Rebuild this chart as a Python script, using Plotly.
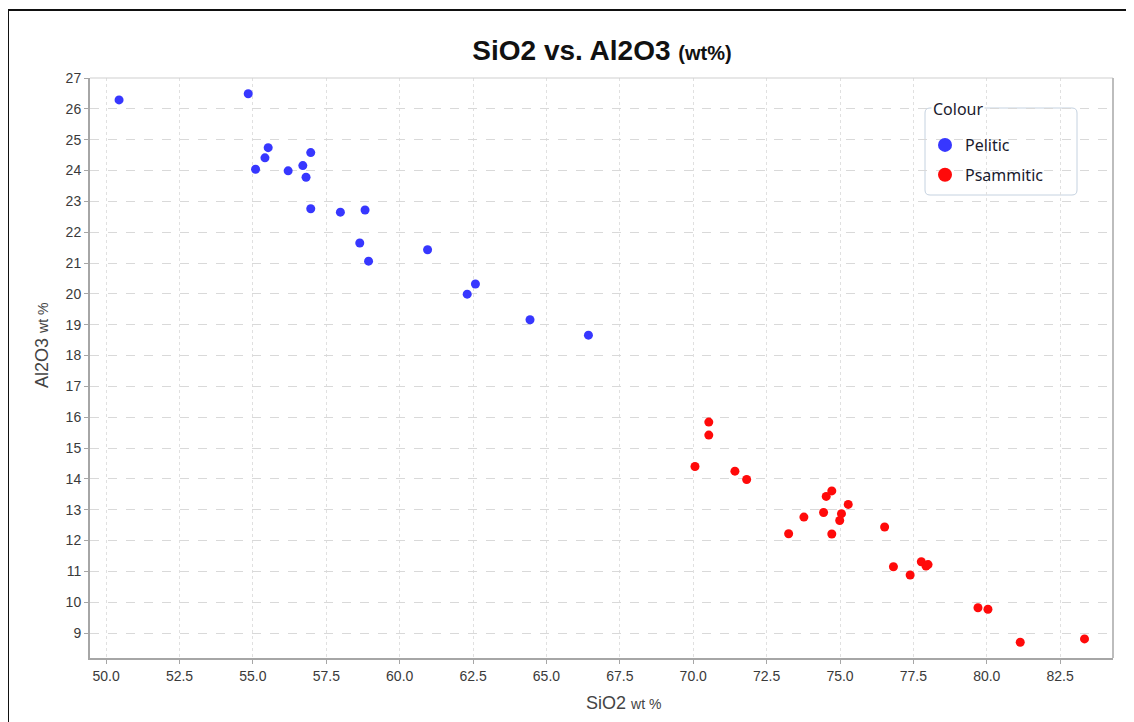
import plotly.graph_objects as go

# ---- data ----
pelitic_sio2 = [50.44, 54.84, 55.52, 55.41, 55.09, 56.20, 56.70, 56.97, 56.81, 56.97,
                57.98, 58.82, 58.64, 58.94, 60.95, 62.58, 62.30, 64.44, 66.43]
pelitic_al2o3 = [26.29, 26.49, 24.74, 24.41, 24.04, 23.99, 24.16, 24.58, 23.78, 22.76,
                 22.65, 22.72, 21.65, 21.06, 21.43, 20.32, 19.99, 19.16, 18.66]

psammitic_sio2 = [70.53, 70.53, 70.06, 71.42, 71.82, 73.25, 73.77, 74.44, 74.53, 74.72,
                  74.72, 74.99, 75.05, 75.28, 76.52, 76.82, 77.39, 77.77, 77.93, 78.00,
                  79.70, 80.04, 81.14, 83.33]
psammitic_al2o3 = [15.84, 15.42, 14.40, 14.25, 13.98, 12.22, 12.76, 12.91, 13.43, 13.61,
                   12.21, 12.65, 12.87, 13.17, 12.44, 11.15, 10.88, 11.31, 11.17, 11.22,
                   9.82, 9.77, 8.70, 8.81]

group_names = ["Pelitic", "Psammitic"]
group_colors = ["#3737ff", "#ff0a0a"]

x_range = [49.45, 84.3]
y_range = [8.19, 27.0]

W, H = 1134, 722
OFF = 8  # page body margin offset
ML, MR, MT, MB = 82, 29, 70, 72
PW, PH = W - ML - MR, H - MT - MB


def px_x(p):
    """page pixel x -> paper coordinate"""
    return (p - OFF - ML) / PW


def px_y(p):
    """page pixel y -> paper coordinate"""
    return (H - MB - (p - OFF)) / PH


font_main = "Liberation Sans, Arial, sans-serif"
font_ui = "Noto Sans, DejaVu Sans, sans-serif"

fig = go.Figure()

xs = [pelitic_sio2, psammitic_sio2]
ys = [pelitic_al2o3, psammitic_al2o3]
for name, col, x, y in zip(group_names, group_colors, xs, ys):
    fig.add_trace(go.Scatter(x=x, y=y, mode="markers", name=name, showlegend=False,
                             marker=dict(color=col, size=9, line=dict(width=0))))
# legend-only traces (larger markers in the legend)
for name, col in zip(group_names, group_colors):
    fig.add_trace(go.Scatter(x=[None], y=[None], mode="markers", name=name,
                             legendgroup=name,
                             marker=dict(color=col, size=14, line=dict(width=0))))

fig.update_layout(
    width=W, height=H,
    margin=dict(l=ML, r=MR, t=MT, b=MB),
    paper_bgcolor="white", plot_bgcolor="white",
    font=dict(family=font_main, color="#444444", size=13),
    title=dict(
        text="SiO2 vs. Al2O3 <span style='font-size:20px'>(wt%)</span>",
        font=dict(family=font_main, size=28, color="#111111", weight="bold"),
        x=px_x(602), xref="paper", xanchor="center",
        y=1 - (50 - OFF) / H, yref="container", yanchor="middle"),
    xaxis=dict(range=x_range, dtick=2.5, tick0=50, tickformat=".1f",
               showgrid=True, gridcolor="#e0e0e0", griddash="dot", gridwidth=1,
               zeroline=False, showline=True, linecolor="#a6a6a6", linewidth=2,
               mirror=False, ticks="outside", ticklen=4, tickcolor="#a6a6a6",
               tickfont=dict(size=14, color="#3a3a3a")),
    yaxis=dict(range=y_range, dtick=1, tick0=9,
               showgrid=True, gridcolor="#d9d9d9", griddash="dash", gridwidth=1,
               zeroline=False, showline=True, linecolor="#a6a6a6", linewidth=2,
               mirror=False, ticks="outside", ticklen=4, tickcolor="#a6a6a6",
               tickfont=dict(size=14, color="#3a3a3a")),
    legend=dict(x=px_x(925), y=px_y(128), xanchor="left", yanchor="top",
                bgcolor="rgba(0,0,0,0)", borderwidth=0,
                font=dict(family=font_ui, size=16, color="#1a1a2e"),
                traceorder="grouped", tracegroupgap=6, itemwidth=30),
    showlegend=True,
)

# top/right plot border (lighter)
fig.add_shape(type="line", xref="paper", yref="paper", x0=0, x1=1, y0=1, y1=1,
              line=dict(color="#cfcfcf", width=1))
fig.add_shape(type="line", xref="paper", yref="paper", x0=1, x1=1, y0=0, y1=1,
              line=dict(color="#bdbdbd", width=2))

# outer frame of the figure
fig.add_shape(type="rect", xref="paper", yref="paper",
              x0=px_x(8), x1=px_x(1131), y0=px_y(10), y1=px_y(740),
              line=dict(color="#111111", width=2), fillcolor="rgba(0,0,0,0)", layer="above")

# legend box (rounded), with fieldset-like title
lx0, lx1, ly0, ly1, r = 925, 1077, 108, 195, 5
path = (f"M {px_x(lx0 + r)} {px_y(ly0)} L {px_x(lx1 - r)} {px_y(ly0)} "
        f"Q {px_x(lx1)} {px_y(ly0)} {px_x(lx1)} {px_y(ly0 + r)} "
        f"L {px_x(lx1)} {px_y(ly1 - r)} Q {px_x(lx1)} {px_y(ly1)} {px_x(lx1 - r)} {px_y(ly1)} "
        f"L {px_x(lx0 + r)} {px_y(ly1)} Q {px_x(lx0)} {px_y(ly1)} {px_x(lx0)} {px_y(ly1 - r)} "
        f"L {px_x(lx0)} {px_y(ly0 + r)} Q {px_x(lx0)} {px_y(ly0)} {px_x(lx0 + r)} {px_y(ly0)} Z")
fig.add_shape(type="path", xref="paper", yref="paper", path=path,
              line=dict(color="#c5d2e0", width=1), fillcolor="white", layer="below")
fig.add_annotation(x=px_x(931), y=px_y(109), xref="paper", yref="paper",
                   text="Colour", showarrow=False, xanchor="left", yanchor="middle",
                   bgcolor="white", borderpad=1,
                   font=dict(family=font_ui, size=16, color="#1a1a2e"))

# axis titles
fig.add_annotation(x=px_x(623), y=px_y(703), xref="paper", yref="paper",
                   text="SiO2 <span style='font-size:14px'>wt %</span>", showarrow=False,
                   xanchor="center", yanchor="middle",
                   font=dict(family=font_main, size=18, color="#444444"))
fig.add_annotation(x=px_x(42), y=px_y(346), xref="paper", yref="paper",
                   text="Al2O3 <span style='font-size:14px'>wt %</span>", showarrow=False,
                   textangle=-90, xanchor="center", yanchor="middle",
                   font=dict(family=font_main, size=18, color="#444444"))

fig.write_html("out.html")
